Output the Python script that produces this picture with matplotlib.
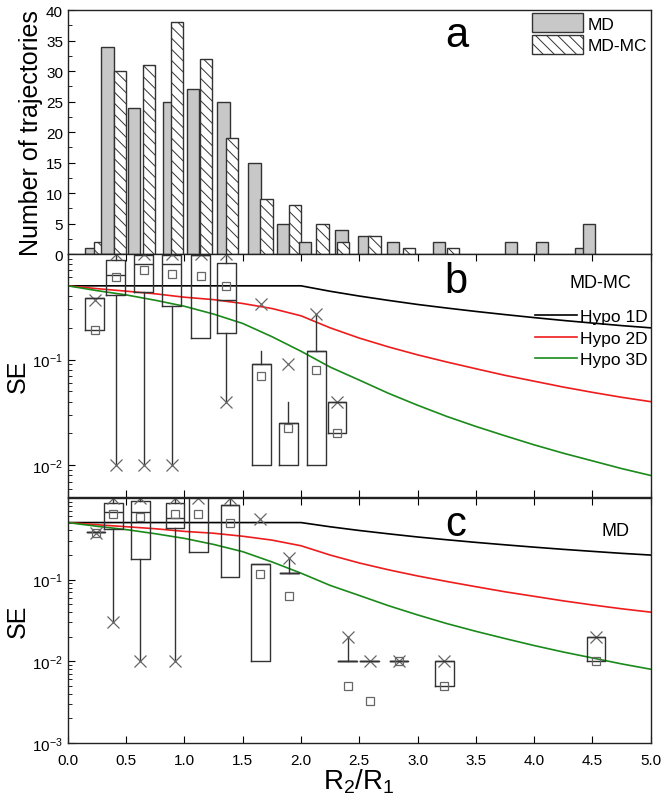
import matplotlib
matplotlib.use("Agg")
import matplotlib.pyplot as plt
from matplotlib.ticker import MultipleLocator, LogLocator, FixedLocator, NullFormatter, LogFormatterMathtext
from matplotlib.patches import Patch

plt.rcParams['font.family'] = ['Liberation Sans', 'DejaVu Sans']
plt.rcParams['mathtext.fontset'] = 'custom'
plt.rcParams['mathtext.rm'] = 'Liberation Sans'
plt.rcParams['mathtext.it'] = 'Liberation Sans:italic'
plt.rcParams['axes.linewidth'] = 1.0
plt.rcParams['hatch.linewidth'] = 0.7

# panel a: histogram of trajectories
md_x = [0.196, 0.339, 0.565, 0.865, 1.071, 1.335, 1.60, 1.847, 2.034, 2.347, 2.544, 2.786, 3.186, 3.80, 4.065, 4.405, 4.472]
md_n = [1, 34, 24, 25, 27, 25, 15, 5, 2, 4, 3, 2, 2, 2, 2, 1, 5]
mc_x = [0.279, 0.45, 0.693, 0.936, 1.186, 1.408, 1.704, 1.948, 2.185, 2.36, 2.63, 2.929, 3.305]
mc_n = [2, 30, 31, 38, 32, 19, 9, 8, 5, 2, 3, 1, 1]

# hypothesis curves
hypo_r = [0.0, 0.25, 0.5, 0.75, 1.0, 1.25, 1.5, 1.75, 2.0, 2.25, 2.5, 2.75, 3.0,
          3.25, 3.5, 3.75, 4.0, 4.25, 4.5, 4.75, 5.0]
hypo_1d = [0.5, 0.5, 0.5, 0.5, 0.5, 0.5, 0.5, 0.5, 0.5, 0.444, 0.4, 0.364, 0.333,
           0.308, 0.286, 0.267, 0.25, 0.235, 0.222, 0.21, 0.2]
hypo_2d = [0.5, 0.47, 0.445, 0.42, 0.39, 0.37, 0.34, 0.305, 0.26, 0.20, 0.16, 0.132, 0.111,
           0.095, 0.082, 0.071, 0.0625, 0.055, 0.049, 0.044, 0.04]
hypo_3d = [0.5, 0.45, 0.41, 0.365, 0.32, 0.27, 0.22, 0.165, 0.12, 0.085, 0.064, 0.048, 0.037,
           0.029, 0.0233, 0.019, 0.0156, 0.013, 0.011, 0.0093, 0.008]

# panel b: MD-MC box stats
b_pos = [0.23, 0.41, 0.65, 0.89, 1.14, 1.36, 1.66, 1.89, 2.13, 2.31]
b_q1 = [0.19, 0.41, 0.44, 0.32, 0.162, 0.178, 0.01, 0.01, 0.01, 0.02]
b_q3 = [0.38, 0.87, 0.985, 0.985, 0.98, 0.82, 0.09, 0.025, 0.12, 0.04]
b_med = [0.38, 0.64, 0.81, 0.81, 0.98, 0.367, 0.09, 0.025, 0.12, 0.04]
b_mean = [0.19, 0.60, 0.70, 0.65, 0.62, 0.50, 0.07, 0.0225, 0.079, 0.02]
b_lo = [0.19, 0.01, 0.01, 0.01, 0.162, 0.04, 0.01, 0.01, 0.01, 0.02]
b_hi = [0.38, 1.0, 1.0, 1.0, 0.98, 0.95, 0.12, 0.04, 0.27, 0.04]
b_x = [[0.37], [0.01, 1.0], [0.01, 1.0], [0.01, 1.0], [1.0], [0.04, 1.0], [0.335], [0.09], [0.27], [0.04]]

# panel c: MD box stats
c_pos = [0.24, 0.39, 0.62, 0.92, 1.12, 1.39, 1.65, 1.90, 2.40, 2.59, 2.84, 3.23, 4.53]
c_q1 = [0.385, 0.414, 0.181, 0.43, 0.219, 0.108, 0.01, 0.12, 0.01, 0.01, 0.01, 0.005, 0.01]
c_q3 = [0.385, 0.87, 0.91, 0.87, 1.05, 0.83, 0.157, 0.12, 0.01, 0.01, 0.01, 0.01, 0.02]
c_med = [0.385, 0.68, 0.68, 0.57, 1.05, 0.83, 0.157, 0.12, 0.01, 0.01, 0.01, 0.01, 0.02]
c_mean = [0.37, 0.63, 0.59, 0.63, 0.63, 0.49, 0.116, 0.063, 0.005, 0.0033, 0.01, 0.005, 0.01]
c_lo = [0.385, 0.03, 0.01, 0.01, 0.219, 0.108, 0.01, 0.12, 0.01, 0.01, 0.01, 0.005, 0.01]
c_hi = [0.385, 1.0, 1.0, 1.0, 1.05, 1.0, 0.157, 0.185, 0.02, 0.01, 0.01, 0.01, 0.02]
c_x = [[0.375], [0.03, 1.0], [0.01, 1.0], [0.01, 1.0], [1.0], [1.0], [0.56], [0.185], [0.02],
       [0.01], [0.01], [0.01], [0.02]]

GRAY = '#c8c8c8'
EDGE = '#333333'
MARK = '#666666'

fig = plt.figure(figsize=(6.66, 8.03), dpi=100)
ax_a = fig.add_axes([0.102, 0.6824, 0.875, 0.3039])
ax_b = fig.add_axes([0.102, 0.3798, 0.875, 0.3026])
ax_c = fig.add_axes([0.102, 0.0735, 0.875, 0.3051])

# ---- panel a
bars = [(x, n, 'md') for x, n in zip(md_x, md_n)] + [(x, n, 'mc') for x, n in zip(mc_x, mc_n)]
for x, n, kind in bars:
    if kind == 'md':
        ax_a.bar(x, n, width=0.105, color=GRAY, edgecolor=EDGE, linewidth=1.0, zorder=2 + x)
    else:
        ax_a.bar(x, n, width=0.105, color='white', edgecolor=EDGE, linewidth=1.0,
                 hatch='\\\\\\', zorder=2 + x)
ax_a.set_xlim(0, 5)
ax_a.set_ylim(0, 40)
ax_a.yaxis.set_major_locator(MultipleLocator(5))
ax_a.yaxis.set_minor_locator(MultipleLocator(2.5))
ax_a.xaxis.set_major_locator(MultipleLocator(0.5))
ax_a.tick_params(axis='x', which='both', bottom=False, labelbottom=False)
ax_a.tick_params(axis='y', which='major', direction='in', length=5, labelsize=11)
ax_a.tick_params(axis='y', which='minor', direction='in', length=3)
ax_a.set_ylabel('Number of trajectories', fontsize=18, labelpad=2)
ax_a.text(0.668, 0.852, 'a', transform=ax_a.transAxes, fontsize=30, ha='center', va='baseline')
handles = [Patch(facecolor=GRAY, edgecolor=EDGE, label='MD'),
           Patch(facecolor='white', edgecolor=EDGE, hatch='\\\\\\', label='MD-MC')]
ax_a.legend(handles=handles, loc='upper right', bbox_to_anchor=(1.0, 1.0), frameon=False,
            fontsize=12.5, handlelength=2.9, handleheight=1.3, labelspacing=0.15,
            handletextpad=0.3, borderaxespad=0.1, borderpad=0.1)


def draw_panel(ax, pos, q1, q3, med, mean, lo, hi, xs):
    stats = []
    for i in range(len(pos)):
        stats.append(dict(q1=q1[i], q3=q3[i], med=med[i], mean=mean[i],
                          whislo=lo[i], whishi=hi[i], fliers=xs[i]))
    ax.plot(hypo_r, hypo_1d, color='black', lw=1.2, label='Hypo 1D')
    ax.plot(hypo_r, hypo_2d, color='#ee1c1c', lw=1.2, label='Hypo 2D')
    ax.plot(hypo_r, hypo_3d, color='#1a8a1a', lw=1.2, label='Hypo 3D')
    ax.bxp(stats, positions=pos, widths=0.16, showcaps=False, showmeans=True,
           manage_ticks=False, patch_artist=False,
           boxprops=dict(color=EDGE, linewidth=1.0),
           whiskerprops=dict(color=EDGE, linewidth=1.0),
           medianprops=dict(color=EDGE, linewidth=1.0),
           meanprops=dict(marker='s', markerfacecolor='none', markeredgecolor=MARK,
                          markersize=6, markeredgewidth=0.9),
           flierprops=dict(marker='x', markeredgecolor=MARK, markersize=9,
                           markeredgewidth=0.9))
    ax.set_yscale('log')
    ax.set_xlim(0, 5)
    ax.xaxis.set_major_locator(MultipleLocator(0.5))
    ax.yaxis.set_minor_locator(LogLocator(base=10, subs=range(2, 10)))
    ax.yaxis.set_minor_formatter(NullFormatter())
    ax.yaxis.set_major_formatter(LogFormatterMathtext())
    ax.tick_params(axis='x', which='major', direction='in', top=True, bottom=True, length=5,
                   labelsize=11, pad=7)
    ax.tick_params(axis='y', which='major', direction='in', length=5, labelsize=11)
    ax.tick_params(axis='y', which='minor', direction='in', length=3)
    ax.set_ylabel('SE', fontsize=18, labelpad=2)


draw_panel(ax_b, b_pos, b_q1, b_q3, b_med, b_mean, b_lo, b_hi, b_x)
ax_b.set_ylim(0.005, 1)
ax_b.yaxis.set_major_locator(FixedLocator([1e-2, 1e-1]))
ax_b.tick_params(axis='x', labelbottom=False)
ax_b.text(0.666, 0.844, 'b', transform=ax_b.transAxes, fontsize=30, ha='center', va='baseline')
ax_b.text(0.913, 0.863, 'MD-MC', transform=ax_b.transAxes, fontsize=13, ha='center', va='baseline')
ax_b.legend(loc='upper right', bbox_to_anchor=(0.995, 0.775), frameon=False, fontsize=12.5,
            handlelength=2.4, handletextpad=0.2, labelspacing=0.38, borderaxespad=0, borderpad=0)

draw_panel(ax_c, c_pos, c_q1, c_q3, c_med, c_mean, c_lo, c_hi, c_x)
ax_c.set_ylim(0.001, 1)
ax_c.yaxis.set_major_locator(FixedLocator([1e-3, 1e-2, 1e-1]))
ax_c.text(0.666, 0.848, 'c', transform=ax_c.transAxes, fontsize=30, ha='center', va='baseline')
ax_c.text(0.94, 0.847, 'MD', transform=ax_c.transAxes, fontsize=13, ha='center', va='baseline')
ax_c.set_xlabel('R$_2$/R$_1$', fontsize=20, labelpad=0)

for ax in (ax_a, ax_b, ax_c):
    for s in ax.spines.values():
        s.set_color('#222222')

fig.savefig('out.png', dpi=100)
